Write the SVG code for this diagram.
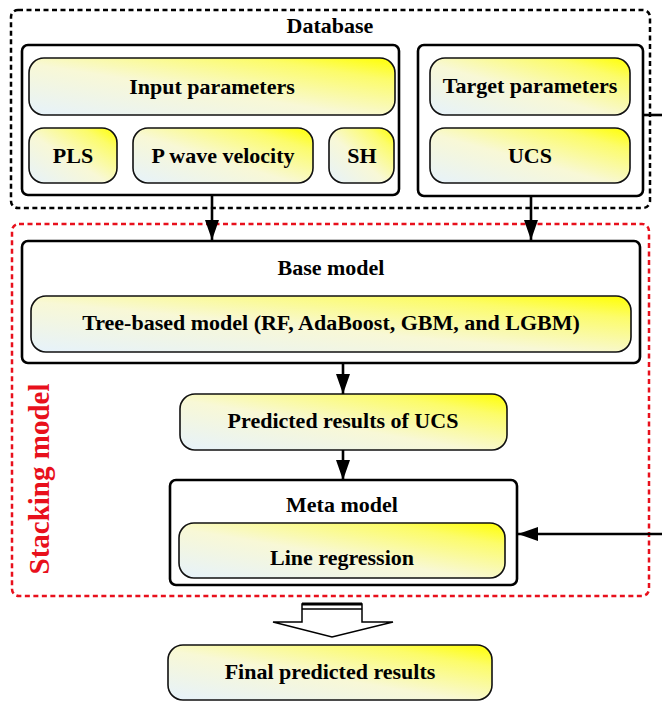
<svg xmlns="http://www.w3.org/2000/svg" width="662" height="701" viewBox="0 0 662 701">
<defs>
<linearGradient id="g" x1="0" y1="1" x2="1" y2="0">
<stop offset="0" stop-color="#e6f2fb"/>
<stop offset="0.45" stop-color="#f8f8d6"/>
<stop offset="0.8" stop-color="#fcfc6a"/>
<stop offset="1" stop-color="#ffff00"/>
</linearGradient>
<marker id="ah" markerWidth="20" markerHeight="14" refX="20" refY="7" orient="auto" markerUnits="userSpaceOnUse">
<path d="M0,0 L20,7 L0,14 Z" fill="#000"/>
</marker>
<style>
.grad{fill:url(#g);stroke:#111;stroke-width:1.6}
.box{fill:#fff;stroke:#000;stroke-width:2.6}
.dash{fill:none;stroke:#000;stroke-width:2.5;stroke-dasharray:5 3.5}
.rdash{fill:none;stroke:#e8101c;stroke-width:2.5;stroke-dasharray:5 3.5}
.t{font-family:"Liberation Serif","Times New Roman",serif;font-weight:bold;font-size:22px;fill:#000;text-anchor:middle}
.ln{stroke:#000;stroke-width:2.6;fill:none}
</style>
</defs>
<rect x="0" y="0" width="662" height="701" fill="#fff"/>
<g id="database">
<rect class="dash" x="11" y="10" width="639" height="198" rx="7"/>
<text class="t" x="330" y="33">Database</text>
</g>
<g id="inputs-box">
<rect class="box" x="22" y="45" width="377" height="150" rx="6"/>
</g>
<g id="input-parameters">
<rect class="grad" x="29" y="58" width="366" height="57" rx="15"/>
<text class="t" x="212" y="94">Input parameters</text>
</g>
<g id="pls">
<rect class="grad" x="29" y="128" width="88" height="55" rx="15"/>
<text class="t" x="73" y="163">PLS</text>
</g>
<g id="p-wave">
<rect class="grad" x="133" y="128" width="180" height="55" rx="15"/>
<text class="t" x="223" y="163">P wave velocity</text>
</g>
<g id="sh">
<rect class="grad" x="329" y="128" width="65" height="55" rx="15"/>
<text class="t" x="362" y="163">SH</text>
</g>
<g id="target-box">
<rect class="box" x="418" y="45" width="225" height="151" rx="6"/>
</g>
<g id="target-parameters">
<rect class="grad" x="430" y="58" width="200" height="57" rx="15"/>
<text class="t" x="530" y="93">Target parameters</text>
</g>
<g id="ucs">
<rect class="grad" x="430" y="128" width="200" height="55" rx="15"/>
<text class="t" x="530" y="163">UCS</text>
</g>
<g id="stacking-model">
<rect class="rdash" x="12" y="224" width="637" height="372" rx="7"/>
<text x="0" y="0" transform="translate(49,479) rotate(-90)" style="font-family:'Liberation Serif','Times New Roman',serif;font-weight:bold;font-size:29px;fill:#e8101c;text-anchor:middle">Stacking model</text>
</g>
<g id="base-model">
<rect class="box" x="22" y="241" width="618" height="122" rx="6"/>
<text class="t" x="331" y="275">Base model</text>
</g>
<g id="tree-based">
<rect class="grad" x="31" y="296" width="600" height="56" rx="15"/>
<text class="t" x="331" y="330">Tree-based model (RF, AdaBoost, GBM, and LGBM)</text>
</g>
<g id="predicted-ucs">
<rect class="grad" x="180" y="394" width="327" height="56" rx="15"/>
<text class="t" x="343" y="428">Predicted results of UCS</text>
</g>
<g id="meta-model">
<rect class="box" x="170" y="480" width="347" height="105" rx="6"/>
<text class="t" x="342" y="512">Meta model</text>
</g>
<g id="line-regression">
<rect class="grad" x="179" y="523" width="326" height="55" rx="15"/>
<text class="t" x="342" y="565">Line regression</text>
</g>
<g id="final-results">
<rect class="grad" x="168" y="645" width="324" height="55" rx="15"/>
<text class="t" x="330" y="679">Final predicted results</text>
</g>
<g id="connectors">
<line class="ln" x1="212" y1="195" x2="212" y2="240" marker-end="url(#ah)"/>
<line class="ln" x1="531" y1="196" x2="531" y2="240" marker-end="url(#ah)"/>
<line class="ln" x1="343" y1="363" x2="343" y2="394" marker-end="url(#ah)"/>
<line class="ln" x1="343" y1="450" x2="343" y2="480" marker-end="url(#ah)"/>
<line class="ln" x1="643" y1="115" x2="662" y2="115"/>
<line class="ln" x1="662" y1="534" x2="518" y2="534" marker-end="url(#ah)"/>
<path d="M302,622 V604 H362 V622 H393 L332,637 L273,622 Z" fill="#fff" stroke="#000" stroke-width="1.5"/>
<line x1="302" y1="604" x2="362" y2="604" stroke="#000" stroke-width="3"/>
<line x1="302" y1="609" x2="362" y2="609" stroke="#000" stroke-width="1.5"/>
</g>
</svg>
